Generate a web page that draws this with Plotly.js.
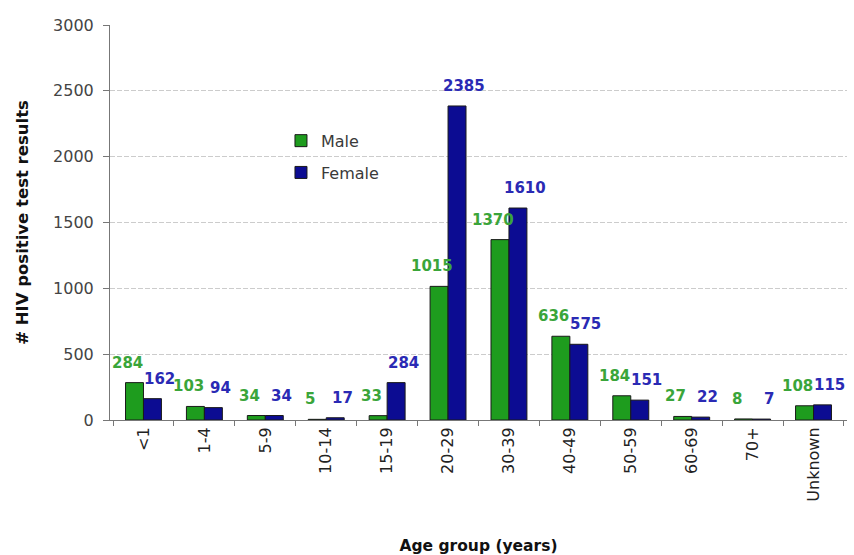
<!DOCTYPE html>
<html>
<head>
<meta charset="utf-8">
<script src="https://cdn.plot.ly/plotly-3.0.1.min.js"></script>
<style>
  html, body { margin: 0; padding: 0; background: #ffffff; }
  #chart { width: 854px; height: 555px; }
</style>
</head>
<body>
<div id="chart"></div>
<script>
// Age groups and HIV positive test counts by sex
const ageGroups = ['<1', '1-4', '5-9', '10-14', '15-19', '20-29', '30-39', '40-49', '50-59', '60-69', '70+', 'Unknown'];
const maleCounts = [284, 103, 34, 5, 33, 1015, 1370, 636, 184, 27, 8, 108];
const femaleCounts = [162, 94, 34, 17, 284, 2385, 1610, 575, 151, 22, 7, 115];
const yTicks = [0, 500, 1000, 1500, 2000, 2500, 3000];

const FONT = 'DejaVu Sans, Liberation Sans, Arial, sans-serif';
const maleFill = '#1e9c1e';
const femaleFill = '#0c0c92';
const maleText = '#3aa53a';
const femaleText = '#2a2ab4';
const barGap = 0.41;
const halfBar = (1 - barGap) / 4; // centre offset of each bar inside its group

const traces = [
  {
    type: 'bar', name: 'Male', legendgroup: 'm',
    x: ageGroups, y: maleCounts,
    marker: { color: maleFill, line: { color: '#1a1a1a', width: 1 } },
    hoverinfo: 'x+y'
  },
  {
    type: 'bar', name: 'Female', legendgroup: 'f',
    x: ageGroups, y: femaleCounts,
    marker: { color: femaleFill, line: { color: '#1a1a1a', width: 1 } },
    hoverinfo: 'x+y'
  }
];

// Value labels placed above each bar, nudged apart so neighbours don't collide
const annotations = [];
ageGroups.forEach((g, i) => {
  annotations.push({
    x: i - halfBar, y: maleCounts[i], xref: 'x', yref: 'y',
    text: String(maleCounts[i]), showarrow: false,
    yanchor: 'bottom', yshift: 9, xshift: -7,
    font: { family: FONT, size: 15, color: maleText, weight: 'bold' }
  });
  annotations.push({
    x: i + halfBar, y: femaleCounts[i], xref: 'x', yref: 'y',
    text: String(femaleCounts[i]), showarrow: false,
    yanchor: 'bottom', yshift: 9, xshift: 7,
    font: { family: FONT, size: 15, color: femaleText, weight: 'bold' }
  });
});

const layout = {
  width: 854, height: 555,
  margin: { l: 110, r: 7, t: 25, b: 135 },
  paper_bgcolor: '#ffffff', plot_bgcolor: '#ffffff',
  font: { family: FONT, color: '#333333' },
  barmode: 'group', bargap: barGap, bargroupgap: 0,
  showlegend: true,
  legend: {
    x: 0.232, y: 0.75, xanchor: 'left', yanchor: 'top',
    bgcolor: 'rgba(0,0,0,0)', borderwidth: 0,
    font: { family: FONT, size: 16, color: '#3a3a3a' },
    traceorder: 'grouped', tracegroupgap: 8
  },
  xaxis: {
    type: 'category',
    automargin: false,
    tickangle: -90,
    tickfont: { family: FONT, size: 16, color: '#222222' },
    ticks: 'outside', tickson: 'boundaries', ticklen: 5, tickcolor: '#777777',
    showline: true, linecolor: '#777777', linewidth: 1,
    showgrid: false,
    title: { text: 'Age group (years)', font: { family: FONT, size: 15.5, color: '#111111', weight: 'bold' }, standoff: 40 }
  },
  yaxis: {
    automargin: false,
    range: [0, 3000],
    tickvals: yTicks,
    tickfont: { family: FONT, size: 16, color: '#444444' },
    ticks: 'outside', ticklen: 6, tickcolor: '#777777',
    ticklabelstandoff: 6,
    showline: true, linecolor: '#777777', linewidth: 1,
    showgrid: true, gridcolor: '#cccccc', griddash: '5px,2px', gridwidth: 1,
    zeroline: false,
    title: { text: '# HIV positive test results', font: { family: FONT, size: 16.5, color: '#111111', weight: 'bold' }, standoff: 20 }
  },
  annotations: annotations
};

Plotly.newPlot('chart', traces, layout, { displayModeBar: false, staticPlot: true });
</script>
</body>
</html>
